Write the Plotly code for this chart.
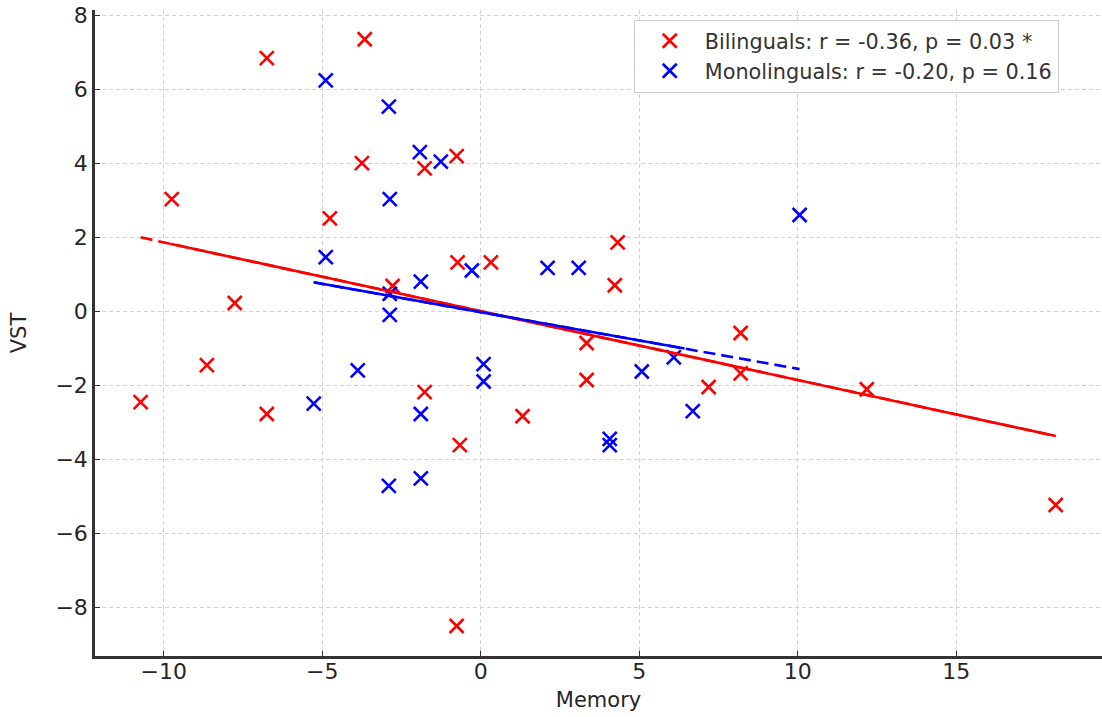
import plotly.graph_objects as go

# ---- data ----
bi_memory = [-10.73, -9.75, -8.64, -7.76, -6.75, -6.75, -4.76, -3.66, -3.75, -2.78,
             -1.77, -1.77, -0.76, -0.73, -0.66, -0.76, 0.32, 1.32, 3.34, 3.34,
             4.32, 4.23, 7.19, 8.2, 8.2, 12.18, 18.14]
bi_vst = [-2.46, 3.03, -1.46, 0.22, 6.84, -2.78, 2.51, 7.35, 4.0, 0.68,
          3.86, -2.19, 4.19, 1.32, -3.62, -8.51, 1.32, -2.84, -0.86, -1.86,
          1.86, 0.70, -2.05, -0.59, -1.68, -2.11, -5.24]

mono_memory = [-4.89, -2.9, -1.92, -1.26, -2.87, 10.06, -4.89, -0.28, 2.11, 3.09,
               -1.89, -2.87, -2.87, 0.09, 0.09, -3.88, -5.27, 5.08, 6.09, 6.69,
               -1.89, 4.07, 4.07, -2.9, -1.89]
mono_vst = [6.24, 5.53, 4.3, 4.04, 3.03, 2.6, 1.46, 1.1, 1.17, 1.17,
            0.8, 0.47, -0.1, -1.43, -1.9, -1.6, -2.5, -1.63, -1.25, -2.7,
            -2.78, -3.45, -3.62, -4.72, -4.52]

bi_label = "Bilinguals: r = -0.36, p = 0.03 *"
mono_label = "Monolinguals: r = -0.20, p = 0.16"

# fitted lines (slope, intercept) and solid-segment extents
bi_fit = (-0.186, 0.0)
mono_fit = (-0.153, -0.027)
bi_solid = (-9.8, max(bi_memory))
mono_solid = (min(mono_memory), 6.43)

x_ticks = [-10, -5, 0, 5, 10, 15]
y_ticks = [-8, -6, -4, -2, 0, 2, 4, 6, 8]

RED = "#ff0000"
BLUE = "#0000ff"
FONT = "DejaVu Sans"


def line_pts(fit, x0, x1):
    m, b = fit
    return [x0, x1], [m * x0 + b, m * x1 + b]


def fmt(v):
    return ("\u2212" + str(abs(v))) if v < 0 else str(v)


fig = go.Figure()

fig.add_trace(go.Scatter(
    x=bi_memory, y=bi_vst, mode="markers", name=bi_label,
    marker=dict(symbol="x-thin-open", size=14, color=RED, line=dict(color=RED, width=2.6)),
))
fig.add_trace(go.Scatter(
    x=mono_memory, y=mono_vst, mode="markers", name=mono_label,
    marker=dict(symbol="x-thin-open", size=14, color=BLUE, line=dict(color=BLUE, width=2.6)),
))

# dashed full-extent fit lines
for mem, fit, col in [(bi_memory, bi_fit, RED), (mono_memory, mono_fit, BLUE)]:
    xs, ys = line_pts(fit, min(mem), max(mem))
    fig.add_trace(go.Scatter(x=xs, y=ys, mode="lines", showlegend=False, hoverinfo="skip",
                             line=dict(color=col, width=2.6, dash="12px,6px")))
# solid segments
for fit, seg, col in [(bi_fit, bi_solid, RED), (mono_fit, mono_solid, BLUE)]:
    xs, ys = line_pts(fit, seg[0], seg[1])
    fig.add_trace(go.Scatter(x=xs, y=ys, mode="lines", showlegend=False, hoverinfo="skip",
                             line=dict(color=col, width=2.6)))

axis_common = dict(
    showgrid=True, gridcolor="#d2d2d2", gridwidth=1, griddash="4px,3px",
    showline=True, linecolor="#333333", linewidth=2.5,
    ticks="inside", ticklen=5, tickwidth=1, tickcolor="#333333",
    zeroline=False, tickfont=dict(family=FONT, size=22, color="#262626"),
    mirror=False, automargin=False,
)

fig.update_layout(
    width=1102, height=717,
    margin=dict(l=95, r=0, t=10, b=61),
    paper_bgcolor="white", plot_bgcolor="white",
    font=dict(family=FONT, color="#262626"),
    xaxis=dict(range=[-12.17, 19.6], tickvals=x_ticks,
               ticktext=[fmt(v) for v in x_ticks], ticklabelstandoff=-6,
               title=dict(text="Memory", font=dict(family=FONT, size=21), standoff=10),
               **axis_common),
    yaxis=dict(range=[-9.32, 8.14], tickvals=y_ticks,
               ticktext=[fmt(v) for v in y_ticks],
               title=dict(text="VST", font=dict(family=FONT, size=21), standoff=24),
               **axis_common),
    legend=dict(x=0.535, y=0.985, xanchor="left", yanchor="top",
                bgcolor="rgba(255,255,255,0.9)", bordercolor="#cccccc", borderwidth=1,
                font=dict(family=FONT, size=20.8, color="#333333"),
                tracegroupgap=0, itemwidth=60),
    showlegend=True,
)

# remove the default page margin so the figure fills the window exactly
fig.write_html(
    "out.html",
    config={"displayModeBar": False},
    post_script="document.body.style.margin='0';document.body.style.overflow='hidden';",
)
